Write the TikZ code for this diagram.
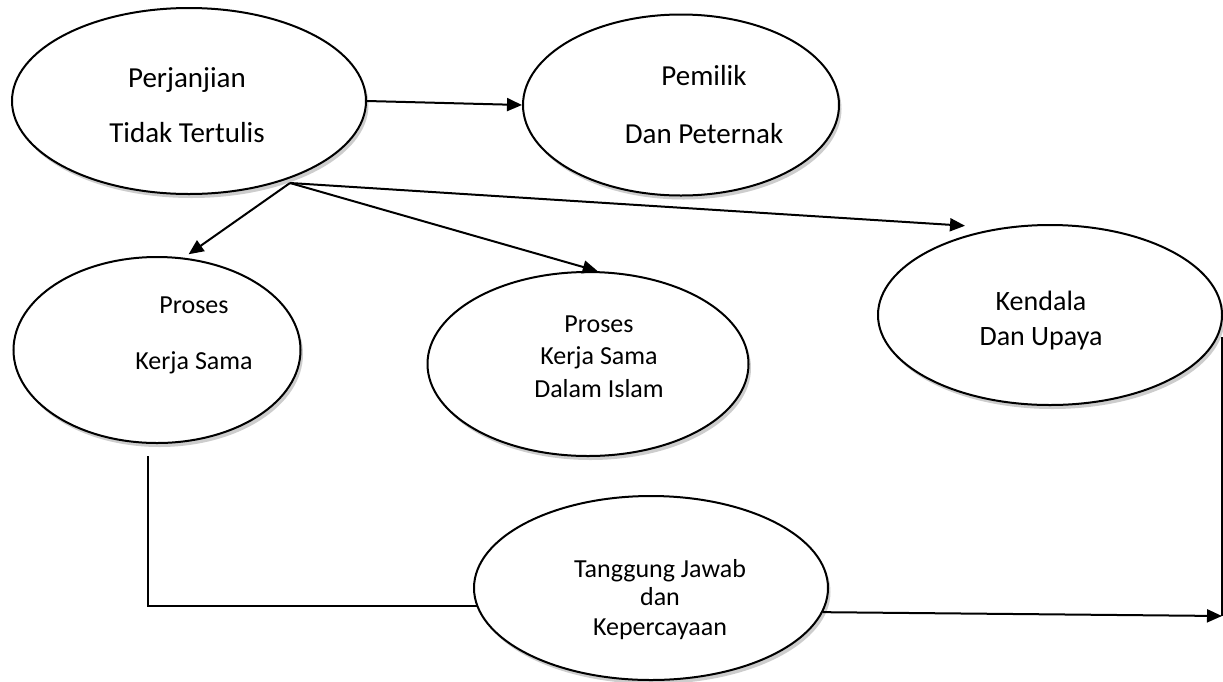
\documentclass[tikz,border=0pt]{standalone}
\usepackage{fontspec}
\setmainfont{Carlito}
\usetikzlibrary{shapes.geometric,arrows.meta,shadows}
\tikzset{
  ell/.style={ellipse, draw, line width=2pt, fill=white, inner sep=0pt,
    drop shadow={shadow xshift=2.5pt, shadow yshift=-4pt, opacity=0.28, fill=black!70}},
  txt/.style={anchor=base, inner sep=0pt, font=\fontsize{29}{34}\selectfont},
  txs/.style={anchor=base, inner sep=0pt, font=\fontsize{26}{30}\selectfont},
  txk/.style={anchor=base, inner sep=0pt, font=\fontsize{28}{32}\selectfont},
  arr/.style={line width=2pt, -{Triangle[length=15pt,width=13pt]}},
  ln/.style={line width=2pt}
}
\begin{document}
\begin{tikzpicture}[x=1pt,y=-1pt]
\useasboundingbox (0,0) rectangle (1223,681);
% ellipses
\node[ell, minimum width=354pt, minimum height=186pt] (perj) at (189,101) {};
\node[ell, minimum width=316pt, minimum height=181pt] (pem) at (681,105) {};
\node[ell, minimum width=287pt, minimum height=186pt] (pks) at (157,350) {};
\node[ell, minimum width=321pt, minimum height=184pt] (isl) at (588,364) {};
\node[ell, minimum width=344pt, minimum height=180pt] (kend) at (1050,315) {};
\node[ell, minimum width=354pt, minimum height=184pt] (tj) at (651,588) {};
% texts
\node[txt] (perjA) at (187,87) {Perjanjian};
\node[txt] (perjB) at (187,142) {Tidak Tertulis};
\node[txt] (pemA) at (704,85) {Pemilik};
\node[txt] (pemB) at (704,143) {Dan Peternak};
\node[txs] (pksA) at (194,313) {Proses};
\node[txs] (pksB) at (194,369) {Kerja Sama};
\node[txs] (islA) at (599,332) {Proses};
\node[txs] (islB) at (599,364) {Kerja Sama};
\node[txs] (islC) at (599,397) {Dalam Islam};
\node[txk] (kendA) at (1041,310) {Kendala};
\node[txk] (kendB) at (1041,345) {Dan Upaya};
\node[txs] (tjA) at (660,577) {Tanggung Jawab};
\node[txs] (tjB) at (660,605) {dan};
\node[txs] (tjC) at (660,635) {Kepercayaan};
% junction points
\coordinate (split) at (290,183);
\coordinate (join) at (1222,616);
% connectors
\draw[arr] (perj.east) -- (pem.west);
\draw[arr] (split) -- ([yshift=4pt]pks.71);
\draw[arr] (split) -- (isl.84);
\draw[arr] (split) -- ([yshift=10pt]kend.137.5);
\draw[ln] ([xshift=-9pt,yshift=-12pt]pks.south) |- (tj.186.6);
\draw[arr] (tj.-8) -- (join);
\draw[ln] ([xshift=-1pt,yshift=-22pt]kend.east) -- (join);
\end{tikzpicture}
\end{document}
